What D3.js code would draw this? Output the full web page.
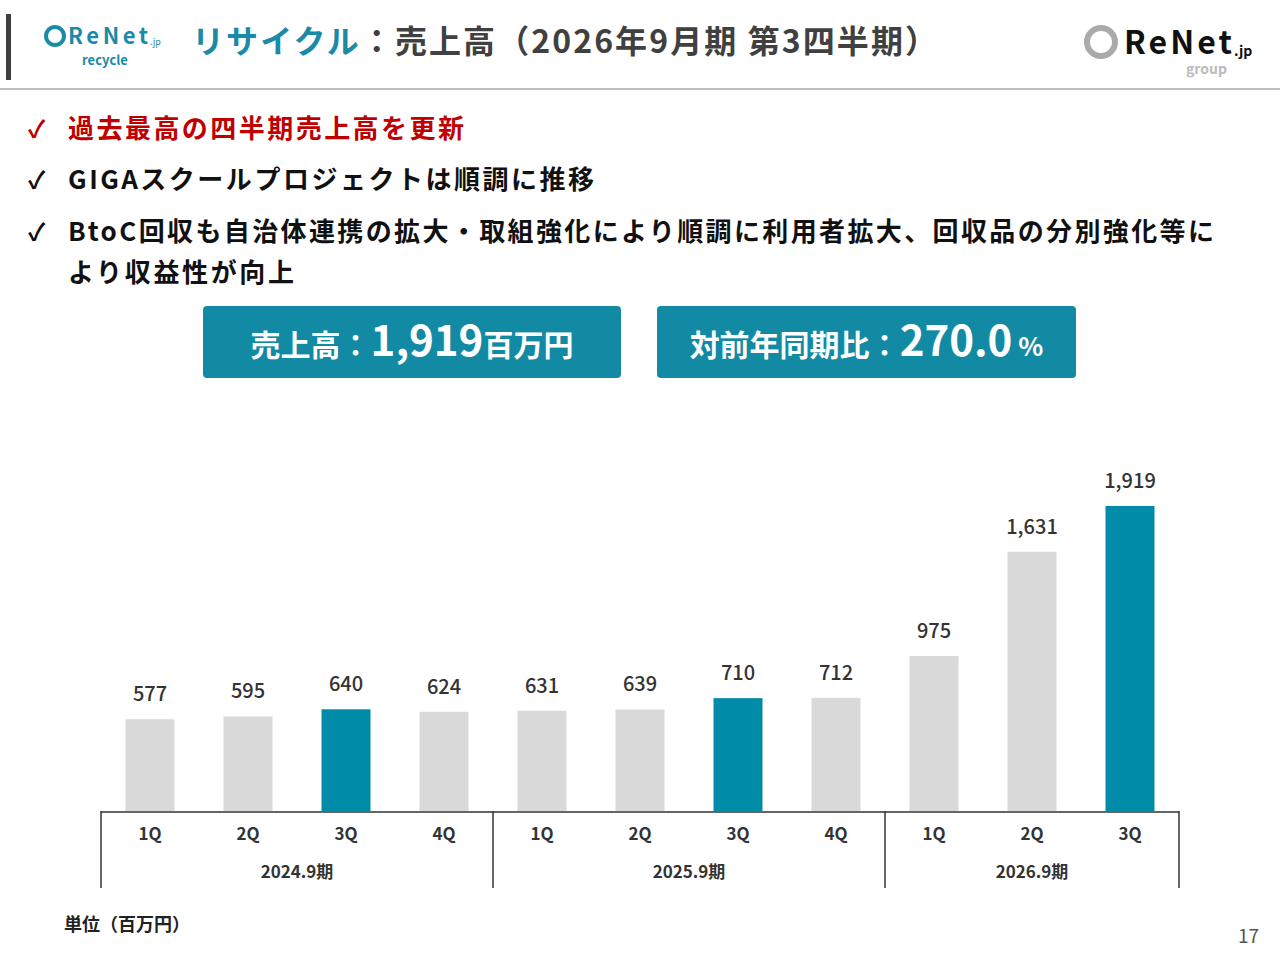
<!DOCTYPE html>
<html><head><meta charset="utf-8">
<script src="https://cdn.jsdelivr.net/npm/d3@7"></script>
<style>body{margin:0;background:#fff}svg{display:block;font-family:"Noto Sans CJK JP","Noto Sans",sans-serif}</style>
</head><body><svg id="c" width="1280" height="960"></svg>
<script>
// chart data
var quarters = ["1Q","2Q","3Q","4Q","1Q","2Q","3Q","4Q","1Q","2Q","3Q"];
var sales = [577,595,640,624,631,639,710,712,975,1631,1919];
var highlight = [false,false,true,false,false,false,true,false,false,false,true];
var years = [{label:"2024.9期",n:4},{label:"2025.9期",n:4},{label:"2026.9期",n:3}];

var svg = d3.select("#c");
var teal = "#008ca8", grey = "#d9d9d9";

// header
svg.append("rect").attr("x",6).attr("y",14).attr("width",5).attr("height",66).attr("fill","#404040");
svg.append("line").attr("x1",0).attr("x2",1280).attr("y1",89).attr("y2",89).attr("stroke","#aaa").attr("stroke-width",1.5);
// left logo
var lg = svg.append("g");
lg.append("circle").attr("cx",55).attr("cy",36).attr("r",9).attr("fill","none").attr("stroke","#1a8aa6").attr("stroke-width",4);
lg.append("text").attr("x",68).attr("y",44).attr("font-size",22).attr("font-weight",700).attr("fill","#1a8aa6")
  .attr("textLength",80).text("ReNet");
lg.append("text").attr("x",150).attr("y",45).attr("font-size",9).attr("fill","#1a8aa6").text(".jp");
lg.append("text").attr("x",105).attr("y",65).attr("text-anchor","middle").attr("font-size",13).attr("font-weight",700).attr("fill","#1a8aa6").text("recycle");
svg.append("text").attr("x",192).attr("y",53).attr("font-size",32).attr("font-weight",700)
  .attr("textLength",745).attr("lengthAdjust","spacing")
  .call(function(t){
    t.append("tspan").attr("fill","#1a8aa6").text("リサイクル");
    t.append("tspan").attr("fill","#404040").text("：売上高（2026年9月期 第3四半期）");
  });
// right logo
var rg = svg.append("g");
rg.append("circle").attr("cx",1101).attr("cy",42).attr("r",14).attr("fill","none").attr("stroke","#aaa").attr("stroke-width",6);
rg.append("text").attr("x",1124).attr("y",54).attr("font-size",32).attr("font-weight",700).attr("fill","#111")
  .attr("textLength",108).text("ReNet");
rg.append("text").attr("x",1234).attr("y",56).attr("font-size",14).attr("font-weight",700).attr("fill","#111").text(".jp");
rg.append("text").attr("x",1186).attr("y",74).attr("font-size",14).attr("font-weight",700).attr("fill","#bbb").text("group");

// bullets
var bullets = [
  {y:138, t:"過去最高の四半期売上高を更新", c:"#c00000", w:396},
  {y:189, t:"GIGAスクールプロジェクトは順調に推移", c:"#111", w:526},
  {y:241, t:"BtoC回収も自治体連携の拡大・取組強化により順調に利用者拡大、回収品の分別強化等に", c:"#111", w:1146}
];
bullets.forEach(function(b){
  svg.append("text").attr("x",28).attr("y",b.y).attr("font-size",24).attr("font-weight",700).attr("fill",b.c).text("✓");
  svg.append("text").attr("x",68).attr("y",b.y).attr("font-size",26).attr("font-weight",700).attr("fill",b.c)
    .attr("textLength",b.w).attr("lengthAdjust","spacing").text(b.t);
});
svg.append("text").attr("x",68).attr("y",282).attr("font-size",26).attr("font-weight",700).attr("fill","#111")
  .attr("textLength",226).attr("lengthAdjust","spacing").text("より収益性が向上");

// KPI boxes
function box(x, w, parts){
  svg.append("rect").attr("x",x).attr("y",306).attr("width",w).attr("height",72).attr("rx",4).attr("fill","#138aa3");
  var t = svg.append("text").attr("x",x+w/2).attr("y",356).attr("text-anchor","middle").attr("fill","#fff").attr("font-weight",700);
  parts.forEach(function(p){ t.append("tspan").attr("font-size",p[1]).text(p[0]); });
}
box(203,418,[["売上高：",30],["1,919",42],["百万円",30]]);
box(657,419,[["対前年同期比：",30],["270.0",42],[" %",26]]);

// chart
var x0 = 101, x1 = 1179, base = 811;
var x = d3.scaleBand().domain(d3.range(quarters.length)).range([x0,x1]).paddingInner(0.5).paddingOuter(0.25);
var y = d3.scaleLinear().domain([0,1919]).range([base,506]);
svg.selectAll(".bar").data(sales).enter().append("rect")
  .attr("x",function(d,i){return x(i);}).attr("width",x.bandwidth())
  .attr("y",function(d){return y(d);}).attr("height",function(d){return base-y(d);})
  .attr("fill",function(d,i){return highlight[i]?teal:grey;});
svg.selectAll(".val").data(sales).enter().append("text")
  .attr("x",function(d,i){return x(i)+x.bandwidth()/2;}).attr("y",function(d){return y(d)-18;})
  .attr("text-anchor","middle").attr("font-size",20).attr("font-weight",500).attr("fill","#333").text(function(d){return d3.format(",")(d);});
svg.append("line").attr("x1",x0).attr("x2",x1).attr("y1",base+1).attr("y2",base+1).attr("stroke","#333").attr("stroke-width",1.5);
var step = (x1-x0)/quarters.length;
svg.selectAll(".ql").data(quarters).enter().append("text")
  .attr("x",function(d,i){return x(i)+x.bandwidth()/2;}).attr("y",840)
  .attr("text-anchor","middle").attr("font-size",17).attr("font-weight",700).attr("fill","#333").text(function(d){return d;});
var acc = 0, seps = [0];
years.forEach(function(g){
  var cx = x0 + (acc + g.n/2)*step;
  svg.append("text").attr("x",cx).attr("y",878).attr("text-anchor","middle").attr("font-size",17).attr("font-weight",700).attr("fill","#333").text(g.label);
  acc += g.n; seps.push(acc);
});
seps.forEach(function(s){
  var sx = x0 + s*step;
  svg.append("line").attr("x1",sx).attr("x2",sx).attr("y1",base).attr("y2",888).attr("stroke","#333").attr("stroke-width",1.5);
});

svg.append("text").attr("x",64).attr("y",931).attr("font-size",18).attr("font-weight",700).attr("fill","#222").text("単位（百万円）");
svg.append("text").attr("x",1259).attr("y",943).attr("text-anchor","end").attr("font-size",19).attr("fill","#555").text("17");
</script></body></html>
